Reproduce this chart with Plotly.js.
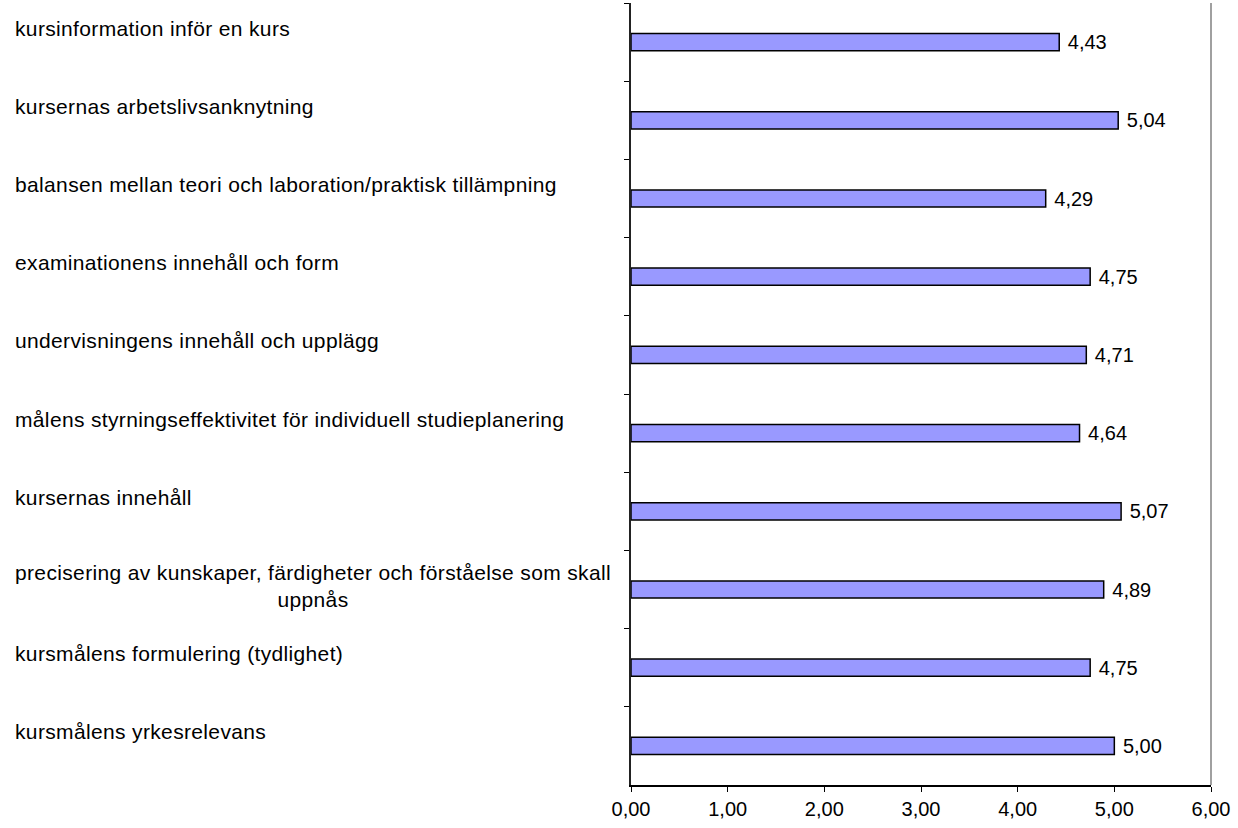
<!DOCTYPE html>
<html>
<head>
<meta charset="utf-8">
<script src="https://cdn.plot.ly/plotly-3.0.1.min.js"></script>
<style>html,body{margin:0;padding:0;background:#fff;}#chart{width:1238px;height:828px;}</style>
</head>
<body>
<div id="chart"></div>
<script>
// Categories, top to bottom
const categories = [
  "kursinformation inför en kurs",
  "kursernas arbetslivsanknytning",
  "balansen mellan teori och laboration/praktisk tillämpning",
  "examinationens innehåll och form",
  "undervisningens innehåll och upplägg",
  "målens styrningseffektivitet för individuell studieplanering",
  "kursernas innehåll",
  "precisering av kunskaper, färdigheter och förståelse som skall<br>uppnås",
  "kursmålens formulering (tydlighet)",
  "kursmålens yrkesrelevans"
];
const values = [4.43, 5.04, 4.29, 4.75, 4.71, 4.64, 5.07, 4.89, 4.75, 5.00];
const xTickVals = [0, 1, 2, 3, 4, 5, 6];

const FONT = "Liberation Sans, Arial, sans-serif";

const trace = {
  type: "bar",
  orientation: "h",
  y: categories,
  x: values,
  marker: { color: "#9999FF", line: { color: "#000000", width: 1.5 } },
  texttemplate: " %{x:.2f}",
  textposition: "outside",
  textfont: { family: FONT, size: 20, color: "#000" },
  constraintext: "none",
  cliponaxis: false,
  hoverinfo: "none"
};

const annotations = categories.map(c => ({
  xref: "paper", yref: "y",
  x: -1.065, y: c,
  xanchor: "left", yanchor: "middle",
  align: "center",
  text: c.split("<br>").map(s => '<span style="letter-spacing:0.35px">' + s + '</span>').join("<br>"),
  showarrow: false,
  yshift: c.indexOf("<br>") >= 0 ? 4 : 14,
  font: { family: FONT, size: 21, color: "#000" }
}));

const layout = {
  width: 1238, height: 828,
  margin: { l: 631, r: 27, t: 3, b: 43, pad: 0 },
  paper_bgcolor: "#fff", plot_bgcolor: "#fff",
  separators: ", ",
  showlegend: false,
  bargap: 0.78,
  xaxis: {
    range: [0, 6],
    tickvals: xTickVals,
    tickformat: ".2f",
    ticks: "outside", ticklen: 5, tickwidth: 1, tickcolor: "#000",
    showline: true, linecolor: "#000", linewidth: 1.5,
    showgrid: false, zeroline: false,
    tickfont: { family: FONT, size: 20, color: "#000" },
    fixedrange: true
  },
  yaxis: {
    type: "category",
    autorange: "reversed",
    showticklabels: false,
    ticks: "outside", tickson: "boundaries", ticklen: 5, tickwidth: 1, tickcolor: "#000",
    showline: true, linecolor: "#222", linewidth: 2,
    showgrid: false, zeroline: false,
    fixedrange: true
  },
  shapes: [{
    type: "line", xref: "paper", yref: "paper",
    x0: 1, x1: 1, y0: 0, y1: 1,
    line: { color: "#808080", width: 1.5 }
  }],
  annotations: annotations
};

Plotly.newPlot("chart", [trace], layout, { displayModeBar: false, staticPlot: true });
</script>
</body>
</html>
